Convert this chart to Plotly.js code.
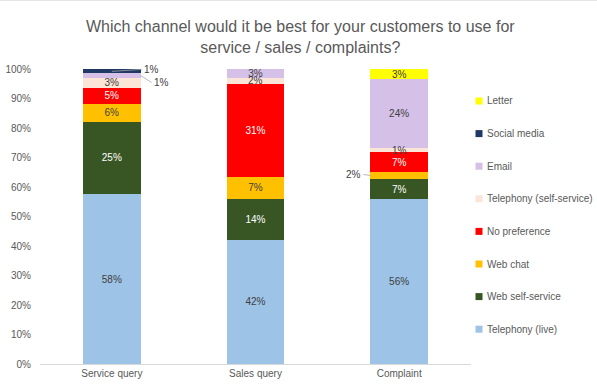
<!DOCTYPE html>
<html>
<head>
<meta charset="utf-8">
<script src="https://cdn.plot.ly/plotly-3.0.1.min.js"></script>
<style>
  html, body { margin: 0; padding: 0; background: #fff; }
  #chart { width: 597px; height: 392px; box-sizing: border-box; border-top: 1px solid #e6e6e6; border-bottom: 2px solid #e6e6e6; }
</style>
</head>
<body>
<div id="chart"></div>
<script>
// ---- data (percent; labels show rounded values) ----
const categories = ["Service query", "Sales query", "Complaint"];
const seriesNames = ["Telephony (live)", "Web self-service", "Web chat", "No preference",
                     "Telephony (self-service)", "Email", "Social media", "Letter"];
const telephonyLive   = [57.6, 42.2, 55.9];
const webSelfService  = [24.6, 13.9, 6.8];
const webChat         = [6.1, 7.4, 2.4];
const noPreference    = [5.4, 31.4, 6.6];
const telephonySelf   = [3.4, 2.1, 1.4];
const email           = [1.4, 3.0, 23.5];
const socialMedia     = [1.4, 0, 0];
const letter          = [0, 0, 3.4];

// labels drawn outside the bar with a leader line: [seriesIndex, categoryIndex]
const outsideLabels = [[6, 0], [5, 0], [2, 2]];
// thin segments whose centred label is drawn on top of neighbouring segments
const overlayLabels = [[4, 1], [4, 2]];

const seriesValues = [telephonyLive, webSelfService, webChat, noPreference,
                      telephonySelf, email, socialMedia, letter];
const seriesColors = ["#9DC3E6", "#375623", "#FFC000", "#FF0000",
                      "#FBE5D6", "#D5C1E8", "#1F3864", "#FFFF00"];
const labelColors  = ["#404040", "#ffffff", "#404040", "#ffffff",
                      "#404040", "#404040", "#ffffff", "#404040"];

const inList = (list, s, c) => list.some(o => o[0] === s && o[1] === c);
const FONT = 'Liberation Sans, Arial, sans-serif';

const traces = seriesValues.map((vals, s) => ({
  type: 'bar',
  name: seriesNames[s],
  showlegend: false,
  x: categories,
  y: vals.map(v => v / 100),
  text: vals.map((v, c) => (v > 0 && !inList(outsideLabels, s, c) && !inList(overlayLabels, s, c)) ? Math.round(v) + '%' : ''),
  textposition: 'inside',
  insidetextanchor: 'middle',
  textangle: 0,
  insidetextfont: { family: FONT, size: 10, color: labelColors[s] },
  constraintext: 'none',
  cliponaxis: false,
  marker: { color: seriesColors[s], line: { width: 0 } },
  hoverinfo: 'name+y'
}));

// cumulative midpoints
function midOf(s, c) {
  let base = 0;
  for (let i = 0; i < s; i++) base += seriesValues[i][c];
  return (base + seriesValues[s][c] / 2) / 100;
}
// [ax, ay, x offset from category centre]
const leaderOffsets = { '6,0': [30, -2, 0.0], '5,0': [11, 7, 0.2], '2,2': [-7, -1, -0.2] };
const annotations = outsideLabels.map(([s, c]) => {
  const off = leaderOffsets[s + ',' + c];
  return {
    x: c + off[2], y: midOf(s, c), xref: 'x', yref: 'y',
    text: Math.round(seriesValues[s][c]) + '%',
    showarrow: true, arrowhead: 0, arrowwidth: 0.8, arrowcolor: '#a6a6a6',
    ax: off[0], ay: off[1], standoff: 0,
    xanchor: off[0] > 0 ? 'left' : 'right',
    font: { family: FONT, size: 10, color: '#404040' }
  };
});
overlayLabels.forEach(([s, c]) => {
  annotations.push({
    x: c, y: midOf(s, c), xref: 'x', yref: 'y',
    text: Math.round(seriesValues[s][c]) + '%', showarrow: false,
    xanchor: 'center', yanchor: 'middle', borderpad: 0,
    font: { family: FONT, size: 10, color: '#404040' }
  });
});

// ---- custom legend (top to bottom: last series first) ----
const W = 597, H = 392, ML = 40, MR = 126, MT = 68, MB = 29;
const plotW = W - ML - MR, plotH = H - MT - MB;
const legendTopPx = 100, legendStepPx = 32.6, legendMarkPx = 479, legendTextPx = 486;
const shapes = [];
for (let k = 0; k < seriesNames.length; k++) {
  const s = seriesNames.length - 1 - k;
  const ypx = legendTopPx + k * legendStepPx;
  const yPaper = (H - MB - ypx) / plotH;
  shapes.push({
    type: 'rect', xref: 'paper', yref: 'paper',
    xsizemode: 'pixel', ysizemode: 'pixel',
    xanchor: (legendMarkPx - ML) / plotW, yanchor: yPaper,
    x0: -3.5, x1: 3.5, y0: -3.5, y1: 3.5,
    fillcolor: seriesColors[s], line: { width: 0 }
  });
  annotations.push({
    xref: 'paper', yref: 'paper',
    x: (legendTextPx - ML) / plotW, y: yPaper,
    xanchor: 'left', yanchor: 'middle', showarrow: false,
    text: seriesNames[s], borderpad: 0,
    font: { family: FONT, size: 10, color: '#595959' }
  });
}

const layout = {
  width: W, height: H,
  margin: { l: ML, r: MR, t: MT, b: MB },
  paper_bgcolor: '#ffffff', plot_bgcolor: '#ffffff',
  font: { family: FONT, color: '#595959' },
  title: {
    text: 'Which channel would it be best for your customers to use for<br>service / sales / complaints?',
    font: { size: 16, color: '#595959' },
    x: 0.503, xref: 'container', xanchor: 'center',
    y: 1 - 31 / 392, yref: 'container', yanchor: 'middle'
  },
  barmode: 'stack',
  bargap: 0.6,
  uniformtext: { mode: 'show', minsize: 10 },
  showlegend: false,
  xaxis: {
    type: 'category',
    showgrid: false, zeroline: false,
    showline: true, linecolor: '#d9d9d9', linewidth: 1,
    ticks: '', tickfont: { size: 10, color: '#595959' }
  },
  yaxis: {
    range: [0, 1], tickmode: 'linear', tick0: 0, dtick: 0.1,
    tickformat: '.0%',
    showgrid: false, zeroline: false, showline: false,
    ticks: '', ticklabelstandoff: 8,
    tickfont: { size: 10, color: '#595959' }
  },
  shapes: shapes,
  annotations: annotations
};

Plotly.newPlot('chart', traces, layout, { displayModeBar: false, staticPlot: true });
</script>
</body>
</html>
